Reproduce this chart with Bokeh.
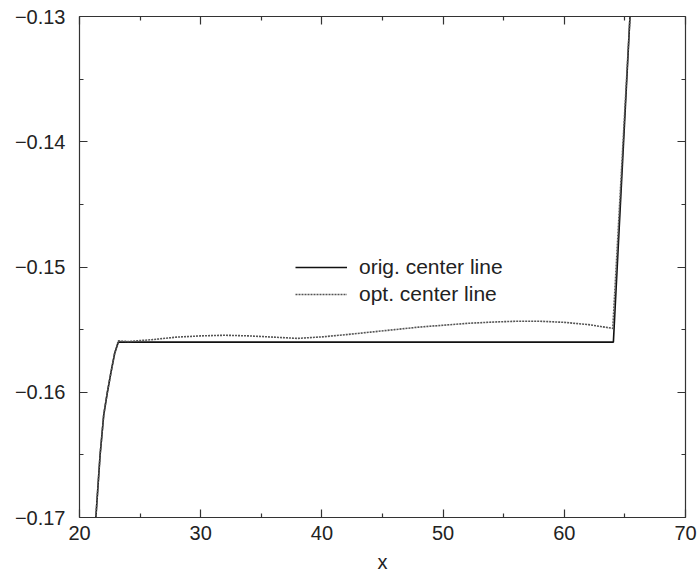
from bokeh.plotting import figure
from bokeh.models import (ColumnDataSource, FixedTicker, LinearAxis, Legend,
                          LegendItem, CustomJSTickFormatter, Range1d)
from bokeh.embed import file_html
from bokeh.resources import INLINE

# original center line: steep ramp, flat plateau, steep ramp
orig_x = [21.2, 21.35, 21.7, 22.0, 22.3, 22.6, 22.9, 23.2, 64.05, 65.42, 65.6]
orig_y = [-0.1730, -0.1700, -0.1650, -0.1618, -0.1600, -0.1584, -0.1569, -0.1560,
          -0.1560, -0.1300, -0.1270]

# optimized center line: same ramps, gently waving plateau
opt_x = [21.2, 21.35, 21.7, 22.0, 22.3, 22.6, 22.9, 23.2, 24.0, 26.0, 28.0, 30.0,
         32.0, 34.0, 36.0, 38.0, 40.0, 42.0, 44.0, 46.0, 48.0, 50.0, 52.0, 54.0,
         56.0, 58.0, 60.0, 62.0, 63.0, 64.0, 65.42, 65.6]
opt_y = [-0.1730, -0.1700, -0.1650, -0.1618, -0.1600, -0.1584, -0.1569, -0.1559,
         -0.15595, -0.1558, -0.1556, -0.1555, -0.15545, -0.1555, -0.1556, -0.1557,
         -0.15558, -0.1554, -0.1552, -0.1550, -0.1548, -0.15465, -0.1545, -0.1544,
         -0.15433, -0.15433, -0.15442, -0.1546, -0.15475, -0.1549, -0.1300, -0.1270]

x_ticks = [20, 30, 40, 50, 60, 70]
x_minor = [25, 35, 45, 55, 65]
y_ticks = [-0.17, -0.16, -0.15, -0.14, -0.13]
y_minor = [-0.165, -0.155, -0.145, -0.135]

labels = ["orig. center line", "opt. center line"]
x_title = "x"

FONT = "Liberation Sans"
INK = "#222222"
AXIS = "#333333"

p = figure(width=697, height=575, output_backend="svg", toolbar_location=None,
           x_range=Range1d(20, 70), y_range=Range1d(-0.17, -0.13),
           x_axis_location=None, y_axis_location=None,
           min_border_left=79, min_border_right=12,
           min_border_top=16, min_border_bottom=58)
p.xgrid.visible = False
p.ygrid.visible = False
p.outline_line_color = None
p.background_fill_color = "white"
p.border_fill_color = "white"

minus_fmt = CustomJSTickFormatter(code="return tick.toFixed(2).replace('-', '\u2212');")


def style_axis(ax, show_labels):
    ax.axis_line_color = AXIS
    ax.axis_line_width = 1.2
    ax.major_tick_line_color = AXIS
    ax.minor_tick_line_color = AXIS
    ax.major_tick_line_width = 1.2
    ax.minor_tick_line_width = 1.2
    ax.major_tick_in = 8
    ax.major_tick_out = 0
    ax.minor_tick_in = 4
    ax.minor_tick_out = 0
    if show_labels:
        ax.major_label_text_font = FONT
        ax.major_label_text_font_size = "20px"
        ax.major_label_text_color = INK
    else:
        # tick marks only on the mirrored edges
        ax.major_label_text_color = None
        ax.major_label_text_font_size = "1px"
        ax.major_label_standoff = 0


xt = FixedTicker(ticks=x_ticks, minor_ticks=x_minor)
yt = FixedTicker(ticks=y_ticks, minor_ticks=y_minor)

bottom = LinearAxis(ticker=xt, axis_label=x_title)
style_axis(bottom, True)
bottom.major_label_standoff = 8
bottom.axis_label_text_font = FONT
bottom.axis_label_text_font_size = "20px"
bottom.axis_label_text_font_style = "normal"
bottom.axis_label_text_color = INK
bottom.axis_label_standoff = 8
p.add_layout(bottom, "below")

left = LinearAxis(ticker=yt, formatter=minus_fmt)
style_axis(left, True)
left.major_label_standoff = 14
p.add_layout(left, "left")

top = LinearAxis(ticker=xt)
style_axis(top, False)
p.add_layout(top, "above")

right = LinearAxis(ticker=yt)
style_axis(right, False)
p.add_layout(right, "right")

src_orig = ColumnDataSource(dict(x=orig_x, y=orig_y))
src_opt = ColumnDataSource(dict(x=opt_x, y=opt_y))

r_orig = p.line("x", "y", source=src_orig, line_color="#111111", line_width=1.6)
r_opt = p.line("x", "y", source=src_opt, line_color="#555555", line_width=1.6,
               line_dash="2 1")

legend = Legend(items=[LegendItem(label=labels[0], renderers=[r_orig]),
                       LegendItem(label=labels[1], renderers=[r_opt])],
                location=(216, 211), border_line_color=None,
                background_fill_alpha=0, padding=0, margin=0, spacing=3,
                glyph_width=52, glyph_height=20, label_height=20,
                label_standoff=12, label_text_font=FONT,
                label_text_font_size="21px", label_text_color=INK)
p.add_layout(legend, "center")

open("out.html", "w").write(file_html(p, INLINE))
